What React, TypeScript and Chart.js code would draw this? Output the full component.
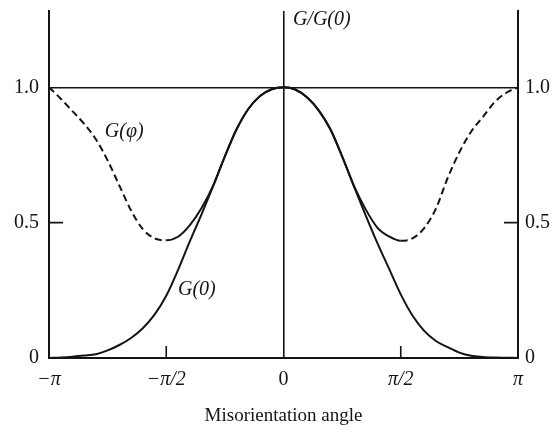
import { useEffect, useRef } from "react";
import { Chart, registerables } from "chart.js";

Chart.register(...registerables);

// Misorientation angle in units of π
const phi = [
  -1, -0.95, -0.9, -0.85, -0.8, -0.75, -0.7, -0.65, -0.6, -0.55, -0.5,
  -0.45, -0.4, -0.35, -0.3, -0.25, -0.2, -0.15, -0.1, -0.05, 0,
  0.05, 0.1, 0.15, 0.2, 0.25, 0.3, 0.35, 0.4, 0.45, 0.5,
  0.55, 0.6, 0.65, 0.7, 0.75, 0.8, 0.85, 0.9, 0.95, 1,
];

// G(0) / G(0) — single-grain distribution
const gZero = [
  0, 0.002, 0.005, 0.009, 0.014, 0.028, 0.048, 0.074, 0.11, 0.16, 0.23,
  0.325, 0.43, 0.53, 0.635, 0.745, 0.845, 0.92, 0.968, 0.993, 1.0,
  0.992, 0.963, 0.915, 0.845, 0.745, 0.635, 0.528, 0.425, 0.33, 0.235,
  0.157, 0.1, 0.063, 0.04, 0.02, 0.008, 0.004, 0.002, 0.001, 0,
];

// G(φ) / G(0) — periodic distribution
const gPhi = [
  1.0, 0.958, 0.912, 0.865, 0.808, 0.73, 0.637, 0.545, 0.476, 0.442, 0.435,
  0.448, 0.49, 0.553, 0.637, 0.745, 0.845, 0.92, 0.968, 0.993, 1.0,
  0.992, 0.963, 0.915, 0.845, 0.745, 0.637, 0.55, 0.482, 0.449, 0.433,
  0.442, 0.48, 0.552, 0.665, 0.76, 0.836, 0.89, 0.945, 0.98, 1.0,
];

const xTickValues = [-1, -0.5, 0, 0.5, 1];
const xTickLabels = ["−π", "−π/2", "0", "π/2", "π"];
const yTickValues = [0, 0.5, 1];
const yTickLabels = ["0", "0.5", "1.0"];
const innerTickX = [-0.5, 0.5];
const innerTickY = [0.5];

const INK = "#141414";
const SERIF = "'Liberation Serif', 'DejaVu Serif', serif";

const curveLabels = [
  { text: "G/G(0)", x: 0.04, y: 1.25 },
  { text: "G(φ)", x: -0.762, y: 0.836 },
  { text: "G(0)", x: -0.45, y: 0.252 },
];

const frameExtras = {
  id: "frameExtras",
  afterDraw(chart: any) {
    const { ctx, chartArea: a, scales } = chart;
    const x = scales.x;
    const y = scales.y;
    ctx.save();
    ctx.strokeStyle = INK;
    ctx.lineWidth = 1.6;
    ctx.beginPath();
    for (const v of innerTickY) {
      const py = y.getPixelForValue(v);
      ctx.moveTo(a.left, py);
      ctx.lineTo(a.left + 14, py);
      ctx.moveTo(a.right, py);
      ctx.lineTo(a.right - 14, py);
    }
    for (const v of innerTickX) {
      const px = x.getPixelForValue(v);
      ctx.moveTo(px, a.bottom);
      ctx.lineTo(px, a.bottom - 12);
    }
    ctx.stroke();

    ctx.fillStyle = INK;
    ctx.font = `italic 20px ${SERIF}`;
    ctx.textAlign = "left";
    ctx.textBaseline = "middle";
    for (const l of curveLabels) {
      ctx.fillText(l.text, x.getPixelForValue(l.x), y.getPixelForValue(l.y));
    }
    ctx.restore();
  },
};

const fixVertical = (width: number) => (s: any) => {
  s.width = width;
  s.paddingTop = 0;
  s.paddingBottom = 0;
};

export default function App() {
  const ref = useRef<HTMLCanvasElement>(null);

  useEffect(() => {
    document.body.style.margin = "0";
    const canvas = ref.current;
    if (!canvas) return;

    const chart = new Chart(canvas, {
      type: "line",
      data: {
        datasets: [
          {
            label: "G(0)",
            data: phi.map((p, i) => ({ x: p, y: gZero[i] })),
            borderColor: INK,
            borderWidth: 2,
            pointRadius: 0,
            cubicInterpolationMode: "monotone",
            fill: false,
          },
          {
            label: "G(φ)",
            data: phi.map((p, i) => ({ x: p, y: gPhi[i] })),
            borderColor: INK,
            borderWidth: 2,
            pointRadius: 0,
            cubicInterpolationMode: "monotone",
            fill: false,
            segment: {
              borderDash: (c: any) =>
                c.p1.parsed.x <= -0.5 || c.p0.parsed.x >= 0.5 ? [7, 4] : [],
            },
          },
        ],
      },
      options: {
        responsive: false,
        animation: false,
        layout: { padding: { top: 11, left: 0, right: 0, bottom: 0 } },
        plugins: {
          legend: { display: false },
          tooltip: { enabled: false },
        },
        scales: {
          x: {
            type: "linear",
            min: -1,
            max: 1,
            afterFit: (s: any) => {
              s.height = 82;
            },
            afterBuildTicks: (s: any) => {
              s.ticks = xTickValues.map((value) => ({ value }));
            },
            ticks: {
              autoSkip: false,
              maxRotation: 0,
              padding: 10,
              color: INK,
              font: (c: any) => ({
                family: SERIF,
                size: 20,
                style: c.tick && c.tick.value === 0 ? "normal" : "italic",
              }),
              callback: (v: any) => xTickLabels[xTickValues.indexOf(Number(v))] ?? "",
            },
            grid: {
              drawTicks: false,
              lineWidth: 1.6,
              color: (c: any) => (c.tick && c.tick.value === 0 ? INK : "rgba(0,0,0,0)"),
            },
            border: { display: true, color: INK, width: 2 },
            title: {
              display: true,
              text: "Misorientation angle",
              color: INK,
              font: { family: SERIF, size: 19 },
              padding: { top: 0, bottom: 13 },
            },
          },
          y: {
            type: "linear",
            position: "left",
            min: 0,
            max: 1.282,
            afterFit: fixVertical(49),
            afterBuildTicks: (s: any) => {
              s.ticks = yTickValues.map((value) => ({ value }));
            },
            ticks: {
              padding: 10,
              color: INK,
              font: { family: SERIF, size: 20 },
              callback: (v: any) => yTickLabels[yTickValues.indexOf(Number(v))] ?? "",
            },
            grid: {
              drawTicks: false,
              lineWidth: 1.6,
              color: (c: any) => (c.tick && c.tick.value === 1 ? INK : "rgba(0,0,0,0)"),
            },
            border: { display: true, color: INK, width: 2 },
          },
          y2: {
            type: "linear",
            position: "right",
            min: 0,
            max: 1.282,
            afterFit: fixVertical(38),
            afterBuildTicks: (s: any) => {
              s.ticks = yTickValues.map((value) => ({ value }));
            },
            ticks: {
              padding: 7,
              color: INK,
              font: { family: SERIF, size: 20 },
              callback: (v: any) => yTickLabels[yTickValues.indexOf(Number(v))] ?? "",
            },
            grid: { display: false, drawTicks: false },
            border: { display: true, color: INK, width: 2 },
          },
        },
      },
      plugins: [frameExtras],
    });

    return () => chart.destroy();
  }, []);

  return (
    <div style={{ width: 556, height: 440, background: "#fff" }}>
      <canvas ref={ref} width={556} height={440} style={{ display: "block" }} />
    </div>
  );
}
